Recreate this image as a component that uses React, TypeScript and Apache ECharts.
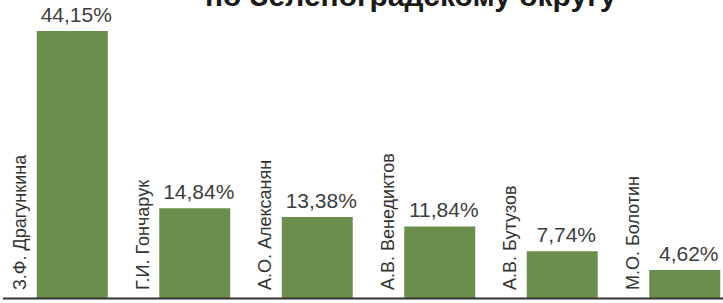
import React, { useEffect, useRef } from "react";
import * as echarts from "echarts";

const candidates = [
  "З.Ф. Драгункина",
  "Г.И. Гончарук",
  "А.О. Алексанян",
  "А.В. Венедиктов",
  "А.В. Бутузов",
  "М.О. Болотин",
];
const shares = [44.15, 14.84, 13.38, 11.84, 7.74, 4.62];
const titleText = "по Зеленоградскому округу";

const fmt = (v: number) => v.toFixed(2).replace(".", ",") + "%";

export default function App() {
  const ref = useRef<HTMLDivElement>(null);
  useEffect(() => {
    if (!ref.current) return;
    const chart = echarts.init(ref.current, null, { renderer: "svg" });
    chart.setOption({
      animation: false,
      backgroundColor: "#ffffff",
      title: {
        text: titleText,
        left: 200,
        top: -25,
        textStyle: {
          fontFamily: "Liberation Sans, Arial, sans-serif",
          fontSize: 30,
          fontWeight: "bold",
          color: "#1a1a1a",
        },
      },
      grid: { left: 11, right: 0, top: 31, bottom: 5 },
      xAxis: {
        type: "category",
        data: candidates,
        axisLine: { show: false },
        axisTick: { show: false },
        axisLabel: { show: false },
      },
      yAxis: {
        type: "value",
        min: 0,
        max: (v: any) => v.max,
        show: false,
        splitLine: { show: false },
      },
      graphic: [
        {
          type: "line",
          shape: { x1: 3, y1: 298.5, x2: 746, y2: 298.5 },
          style: { stroke: "#333333", lineWidth: 2 },
          z: 10,
        },
      ],
      series: [
        {
          type: "bar",
          data: shares,
          barWidth: 71,
          itemStyle: { color: "#6b8e4e" },
          label: {
            show: true,
            position: "top",
            distance: 6,
            offset: [4, 0],
            formatter: (p: any) => fmt(p.value),
            fontFamily: "Liberation Sans, Arial, sans-serif",
            fontSize: 21,
            color: "#3d3d3d",
          },
        },
        {
          type: "bar",
          data: shares,
          barWidth: 71,
          barGap: "-100%",
          itemStyle: { color: "rgba(0,0,0,0)" },
          label: {
            show: true,
            position: "insideBottom",
            distance: 0,
            rotate: 90,
            align: "left",
            verticalAlign: "middle",
            offset: [8, -52],
            formatter: "{b}",
            fontFamily: "Liberation Sans, Arial, sans-serif",
            fontSize: 18,
            color: "#333333",
          },
        },
      ],
    });
    return () => chart.dispose();
  }, []);
  return (
    <div
      style={{
        position: "fixed",
        left: 0,
        top: 0,
        width: 723,
        height: 303,
        overflow: "hidden",
        background: "#ffffff",
      }}
    >
      <div ref={ref} style={{ width: 746, height: 303 }} />
    </div>
  );
}
